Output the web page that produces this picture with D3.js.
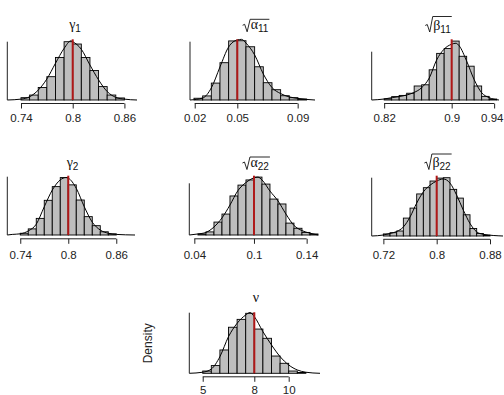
<!DOCTYPE html>
<html>
<head>
<meta charset="utf-8">
<script src="https://cdn.jsdelivr.net/npm/d3@7"></script>
<style>
  body { margin: 0; background: #fff; }
</style>
</head>
<body>
<div id="chart"></div>
<script>
// ---------- data ----------
// gamma_1
const g1Start = 0.74, g1Width = 0.01;
const g1Density = [0.8, 1.7, 4.3, 8, 14.6, 20, 19.2, 14.6, 10.1, 4.6, 1.7, 0.7];
const g1CurveX = [0.7241, 0.74, 0.75, 0.76, 0.77, 0.78, 0.79, 0.798, 0.80, 0.81, 0.82, 0.83, 0.84, 0.85, 0.86, 0.8746];
const g1CurveY = [0, 0.3, 1.1, 3.4, 7.2, 12.6, 17.7, 20.3, 20, 17.4, 12, 6.9, 2.9, 0.9, 0.3, 0];
const g1Ticks = [0.74, 0.8, 0.86];
const g1Labels = ["0.74", "0.8", "0.86"];
const g1True = 0.8;

// sqrt(alpha_11)
const a11Start = 0.020, a11Width = 0.006;
const a11Density = [0.9, 2.1, 8.7, 19.2, 30.4, 30.5, 27.4, 17.1, 8.9, 5.3, 2.2, 1.2, 0.5];
const a11CurveX = [0.01724, 0.026, 0.032, 0.038, 0.044, 0.050, 0.053, 0.056, 0.062, 0.068, 0.074, 0.080, 0.086, 0.092, 0.1038];
const a11CurveY = [0, 1.0, 6.2, 17.0, 27.3, 30.9, 31.2, 29.3, 23.2, 13.4, 6.4, 3.3, 1.6, 0.8, 0];
const a11Ticks = [0.0205, 0.05, 0.0918];
const a11Labels = ["0.02", "0.05", "0.09"];
const a11True = 0.05;

// sqrt(beta_11)
const b11Start = 0.828, b11Width = 0.008;
const b11Density = [0.5, 1.4, 1.9, 2.8, 5.8, 6.3, 12.5, 19.3, 21.3, 24.4, 18.1, 14.0, 5.8, 1.5, 0.4];
const b11CurveX = [0.8147, 0.8278, 0.8367, 0.8438, 0.8523, 0.8598, 0.868, 0.8761, 0.884, 0.8918, 0.9, 0.9046, 0.9081, 0.916, 0.9238, 0.932, 0.9398, 0.9505];
const b11CurveY = [0, 0.4, 1.0, 1.4, 2.1, 3.1, 5.1, 9.1, 16.6, 21.0, 23.1, 23.5, 22.4, 16.1, 8.6, 3.0, 1.0, 0];
const b11Ticks = [0.828, 0.9, 0.9453];
const b11Labels = ["0.82", "0.9", "0.94"];
const b11True = 0.9;

// gamma_2
const g2Start = 0.74, g2Width = 0.01;
const g2Density = [0.6, 2.1, 5.7, 11.9, 16.6, 19.7, 17.2, 12.0, 6.3, 3.2, 1.1, 0.4];
const g2CurveX = [0.7238, 0.73, 0.74, 0.75, 0.76, 0.77, 0.78, 0.79, 0.797, 0.80, 0.81, 0.82, 0.83, 0.84, 0.85, 0.86, 0.8834];
const g2CurveY = [0, 0.2, 0.4, 1.4, 3.7, 9.7, 15.4, 18.9, 19.7, 19.5, 16.0, 9.7, 4.4, 1.7, 0.6, 0.2, 0];
const g2Ticks = [0.74, 0.8, 0.86];
const g2Labels = ["0.74", "0.8", "0.86"];
const g2True = 0.8;

// sqrt(alpha_22)
const a22Start = 0.051, a22Width = 0.007;
const a22Density = [0.4, 1.2, 5.0, 8.1, 15.1, 19.3, 21.3, 22.4, 19.7, 13.9, 12.0, 4.6, 2.6, 1.0, 0.4];
const a22CurveX = [0.0434, 0.051, 0.058, 0.065, 0.072, 0.079, 0.086, 0.093, 0.1, 0.1035, 0.107, 0.114, 0.121, 0.128, 0.135, 0.142, 0.149, 0.1563];
const a22CurveY = [0, 0.4, 1.0, 3.1, 6.6, 11.6, 17.2, 20.3, 22.1, 22.4, 21.3, 17.0, 13.2, 8.1, 3.7, 1.7, 0.7, 0];
const a22Ticks = [0.0478, 0.1, 0.1461];
const a22Labels = ["0.04", "0.1", "0.14"];
const a22True = 0.1;

// sqrt(beta_22)
const b22Start = 0.72, b22Width = 0.01;
const b22Density = [0.5, 0.8, 1.2, 4.3, 6.7, 10.1, 11.6, 13.2, 13.9, 14.0, 11.2, 9.1, 5.1, 1.8, 0.6, 0.2];
const b22CurveX = [0.7025, 0.72, 0.73, 0.74, 0.75, 0.76, 0.77, 0.78, 0.79, 0.80, 0.81, 0.82, 0.83, 0.84, 0.85, 0.86, 0.87, 0.8995];
const b22CurveY = [0, 0.24, 0.6, 1.08, 2.16, 4.56, 7.9, 10.6, 12.2, 13.2, 13.7, 12.7, 9.8, 6.2, 3.0, 1.0, 0.4, 0];
const b22Ticks = [0.72, 0.8, 0.88];
const b22Labels = ["0.72", "0.8", "0.88"];
const b22True = 0.8;

// nu
const nuStart = 5, nuWidth = 0.5;
const nuDensity = [0.015, 0.051, 0.154, 0.304, 0.356, 0.396, 0.292, 0.231, 0.114, 0.066, 0.015, 0.005];
const nuCurveX = [4.22, 5, 5.5, 6, 6.5, 7, 7.5, 7.75, 8, 8.5, 9, 9.5, 10, 10.5, 11, 11.82];
const nuCurveY = [0, 0.007, 0.028, 0.110, 0.242, 0.330, 0.385, 0.401, 0.374, 0.275, 0.187, 0.110, 0.055, 0.022, 0.007, 0];
const nuTicks = [5, 8, 10];
const nuLabels = ["5", "8", "10"];
const nuTrue = 8;

// ---------- panel layout ----------
const panels = [
  {start: g1Start, bw: g1Width, dens: g1Density, cx: g1CurveX, cy: g1CurveY, ticks: g1Ticks, labels: g1Labels, truth: g1True,
   xDom: [0.7241, 0.8746], xr: [7.3, 137], yTop: 20, base: 100, axisTop: 41.7, redTop: 39.3, axisY: 103.5, labelY: 121.5,
   greek: "γ", sub: "1", sqrt: false, tx: 75, ty: 28.5},
  {start: a11Start, bw: a11Width, dens: a11Density, cx: a11CurveX, cy: a11CurveY, ticks: a11Ticks, labels: a11Labels, truth: a11True,
   xDom: [0.01724, 0.1038], xr: [190, 315], yTop: 30, base: 100, axisTop: 41.7, redTop: 39.3, axisY: 103.5, labelY: 121.5,
   greek: "α", sub: "11", sqrt: true, barH: 10, tx: 255.5, ty: 29.3},
  {start: b11Start, bw: b11Width, dens: b11Density, cx: b11CurveX, cy: b11CurveY, ticks: b11Ticks, labels: b11Labels, truth: b11True,
   xDom: [0.8147, 0.9505], xr: [371.7, 499], yTop: 20, base: 100, axisTop: 51.7, redTop: 39.3, axisY: 103.5, labelY: 121.5,
   greek: "β", sub: "11", sqrt: true, barH: 13, tx: 438, ty: 29.5},
  {start: g2Start, bw: g2Width, dens: g2Density, cx: g2CurveX, cy: g2CurveY, ticks: g2Ticks, labels: g2Labels, truth: g2True,
   xDom: [0.7238, 0.8834], xr: [7.3, 135], yTop: 20, base: 235, axisTop: 176.7, redTop: 175.7, axisY: 238.8, labelY: 259.3,
   greek: "γ", sub: "2", sqrt: false, tx: 72.5, ty: 166.5},
  {start: a22Start, bw: a22Width, dens: a22Density, cx: a22CurveX, cy: a22CurveY, ticks: a22Ticks, labels: a22Labels, truth: a22True,
   xDom: [0.0434, 0.1563], xr: [189.3, 318.3], yTop: 20, base: 235, axisTop: 183.3, redTop: 175.7, axisY: 238.8, labelY: 259.3,
   greek: "α", sub: "22", sqrt: true, barH: 10, tx: 255.7, ty: 167},
  {start: b22Start, bw: b22Width, dens: b22Density, cx: b22CurveX, cy: b22CurveY, ticks: b22Ticks, labels: b22Labels, truth: b22True,
   xDom: [0.7025, 0.8995], xr: [371.7, 503], yTop: 14, base: 236, axisTop: 177.7, redTop: 175.7, axisY: 239.3, labelY: 259.3,
   greek: "β", sub: "22", sqrt: true, barH: 13, tx: 437.5, ty: 167},
  {start: nuStart, bw: nuWidth, dens: nuDensity, cx: nuCurveX, cy: nuCurveY, ticks: nuTicks, labels: nuLabels, truth: nuTrue,
   xDom: [4.22, 11.82], xr: [189.3, 320], yTop: 0.4, base: 373.3, axisTop: 312.7, redTop: 312.3, axisY: 376.8, labelY: 394.3,
   greek: "ν", sub: "", sqrt: false, tx: 256, ty: 301.5}
];

const svg = d3.select("#chart")
  .append("svg")
  .attr("width", 504)
  .attr("height", 395);

function drawPanel(p) {
  const x = d3.scaleLinear().domain(p.xDom).range(p.xr);
  const y = d3.scaleLinear().domain([0, p.yTop]).range([p.base, p.axisTop]);
  const g = svg.append("g");

  // bars
  const bins = p.dens.map((d, i) => ({x0: p.start + i * p.bw, x1: p.start + (i + 1) * p.bw, d: d}));
  g.selectAll(".bar")
    .data(bins)
    .join("rect")
    .attr("class", "bar")
    .attr("x", b => x(b.x0))
    .attr("width", b => x(b.x1) - x(b.x0))
    .attr("y", b => y(b.d))
    .attr("height", b => p.base - y(b.d))
    .attr("fill", "#bebebe")
    .attr("stroke", "#000")
    .attr("stroke-width", 0.9);

  // density curve
  const line = d3.line()
    .x(d => x(d[0]))
    .y(d => y(d[1]))
    .curve(d3.curveMonotoneX);
  g.append("path")
    .datum(d3.zip(p.cx, p.cy))
    .attr("d", line)
    .attr("fill", "none")
    .attr("stroke", "#000")
    .attr("stroke-width", 1);

  // true value
  g.append("line")
    .attr("x1", x(p.truth)).attr("x2", x(p.truth))
    .attr("y1", p.base).attr("y2", p.redTop)
    .attr("stroke", "#b01818")
    .attr("stroke-width", 2);

  // y axis (line only)
  g.append("line")
    .attr("x1", p.xr[0]).attr("x2", p.xr[0])
    .attr("y1", p.base).attr("y2", p.axisTop)
    .attr("stroke", "#222")
    .attr("stroke-width", 1);

  // x axis
  const ax = g.append("g")
    .attr("transform", `translate(0,${p.axisY})`)
    .call(d3.axisBottom(x)
      .tickValues(p.ticks)
      .tickFormat((d, i) => p.labels[i])
      .tickSize(5));
  ax.select(".domain").remove();
  ax.append("line")
    .attr("x1", x(p.ticks[0])).attr("x2", x(p.ticks[p.ticks.length - 1]))
    .attr("stroke", "#222");
  ax.selectAll(".tick line").attr("stroke", "#222");
  ax.selectAll("text")
    .attr("y", p.labelY - p.axisY)
    .attr("dy", 0)
    .attr("fill", "#222")
    .style("font-family", "'Liberation Sans', Arial, sans-serif")
    .style("font-size", "11.5px")
    .each(function(d) {
      // keep labels inside the page edge
      const over = x(d) + this.getComputedTextLength() / 2 - 503;
      if (over > 0) d3.select(this).attr("x", -over);
    });

  // title
  const t = g.append("text")
    .attr("y", p.ty)
    .style("font-family", "'Liberation Serif', 'DejaVu Serif', serif")
    .style("font-size", "14px")
    .attr("fill", "#111");
  t.append("tspan").text(p.greek);
  if (p.sub) {
    t.append("tspan")
      .attr("dy", 3)
      .style("font-family", "'Liberation Sans', Arial, sans-serif")
      .style("font-size", "10px")
      .text(p.sub);
  }
  const tw = t.node().getComputedTextLength();
  const radW = p.sqrt ? 8 : 0;
  const sx = p.tx - (tw + radW) / 2;
  t.attr("x", sx + radW);
  if (p.sqrt) {
    const top = p.ty - p.barH;
    g.append("path")
      .attr("d", `M${sx},${p.ty - 4} L${sx + 2},${p.ty - 5} L${sx + 4.5},${p.ty + 2.5} L${sx + 7.5},${top} L${sx + radW + tw + 1},${top}`)
      .attr("fill", "none")
      .attr("stroke", "#111")
      .attr("stroke-width", 0.9);
  }
}

panels.forEach(drawPanel);

// shared y label
svg.append("text")
  .attr("transform", "translate(152,343.3) rotate(-90)")
  .attr("text-anchor", "middle")
  .style("font-family", "'Liberation Sans', Arial, sans-serif")
  .style("font-size", "12px")
  .attr("fill", "#222")
  .text("Density");
</script>
</body>
</html>
